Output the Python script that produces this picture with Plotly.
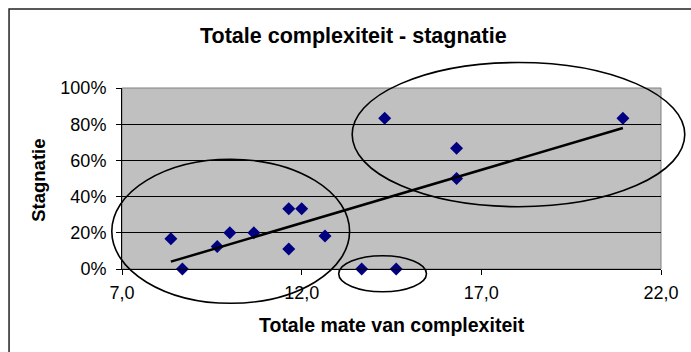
import numpy as np
import plotly.graph_objects as go

# Data
complexiteit = [8.36, 8.68, 9.65, 10.0, 10.67, 11.64, 11.64, 12.0, 12.65,
                13.67, 14.63, 14.31, 16.31, 16.31, 20.94]
stagnatie = [0.167, 0.0, 0.125, 0.20, 0.20, 0.333, 0.111, 0.333, 0.182,
             0.0, 0.0, 0.833, 0.667, 0.50, 0.833]

x_tickvals = [7, 12, 17, 22]
x_ticktext = ["7,0", "12,0", "17,0", "22,0"]
y_tickvals = [0, 0.2, 0.4, 0.6, 0.8, 1.0]
y_ticktext = ["0%", "20%", "40%", "60%", "80%", "100%"]

title_text = "Totale complexiteit - stagnatie"
x_title = "Totale mate van complexiteit"
y_title = "Stagnatie"

W, H = 691, 352
L, R, T, B = 122, 25, 88, 83
PW, PH = W - L - R, H - T - B

def px(x):
    return (x - L) / PW

def py(y):
    return (H - B - y) / PH

FONT = "Arial, Liberation Sans, sans-serif"

# linear trendline
xs = np.array(complexiteit)
ys = np.array(stagnatie)
slope, intercept = np.polyfit(xs, ys, 1)
tx = [xs.min(), xs.max()]
ty = [slope * v + intercept for v in tx]

fig = go.Figure()
fig.add_trace(go.Scatter(x=complexiteit, y=stagnatie, mode="markers",
                         marker=dict(symbol="diamond", size=10, color="#000080"),
                         showlegend=False, cliponaxis=False))
fig.add_trace(go.Scatter(x=tx, y=ty, mode="lines",
                         line=dict(color="black", width=2.5),
                         showlegend=False))

shapes = []
# plot area border (gray)
shapes.append(dict(type="rect", xref="paper", yref="paper", x0=0, x1=1, y0=0, y1=1,
                   line=dict(color="#808080", width=1), layer="below"))
# outer chart border (left/top visible)
shapes.append(dict(type="rect", xref="paper", yref="paper",
                   x0=px(8), x1=px(700), y0=py(360), y1=py(9),
                   line=dict(color="#222222", width=1.5)))
# ellipses (hand-drawn annotations, pixel positions)
for (x0, y0, x1, y1) in [(111.7, 159.3, 351.7, 303.3),
                         (354.3, 62.5, 690.0, 206.7),
                         (340.7, 255.7, 429.3, 291.7)]:
    shapes.append(dict(type="circle", xref="paper", yref="paper",
                       x0=px(x0), x1=px(x1), y0=py(y1), y1=py(y0),
                       line=dict(color="black", width=1.6)))

annotations = [
    dict(text=f"<b>{title_text}</b>", xref="paper", yref="paper",
         x=px(356), y=py(36), showarrow=False, font=dict(size=21.5, family=FONT, color="black"),
         xanchor="center", yanchor="middle"),
    dict(text=f"<b>{x_title}</b>", xref="paper", yref="paper",
         x=px(395), y=py(325), showarrow=False, font=dict(size=19.5, family=FONT, color="black"),
         xanchor="center", yanchor="middle"),
    dict(text=f"<b>{y_title}</b>", xref="paper", yref="paper",
         x=px(37), y=py(180), showarrow=False, textangle=-90,
         font=dict(size=18.5, family=FONT, color="black"),
         xanchor="center", yanchor="middle"),
]

fig.update_layout(
    width=W, height=H,
    margin=dict(l=L, r=R, t=T, b=B, pad=0),
    paper_bgcolor="white", plot_bgcolor="#C0C0C0",
    font=dict(family=FONT, size=18, color="black"),
    shapes=shapes, annotations=annotations,
    xaxis=dict(range=[7, 22], tickvals=x_tickvals, ticktext=x_ticktext,
               showgrid=False, zeroline=False, showline=True, linecolor="black", linewidth=1,
               ticks="outside", ticklen=5, tickcolor="black", tickfont=dict(size=18),
               ticklabelstandoff=2),
    yaxis=dict(range=[0, 1], tickvals=y_tickvals, ticktext=y_ticktext,
               showgrid=True, gridcolor="black", gridwidth=1, zeroline=False,
               showline=True, linecolor="black", linewidth=1,
               ticks="outside", ticklen=5, tickcolor="black", tickfont=dict(size=18),
               ticklabelstandoff=6),
)

fig.write_html("out.html")
